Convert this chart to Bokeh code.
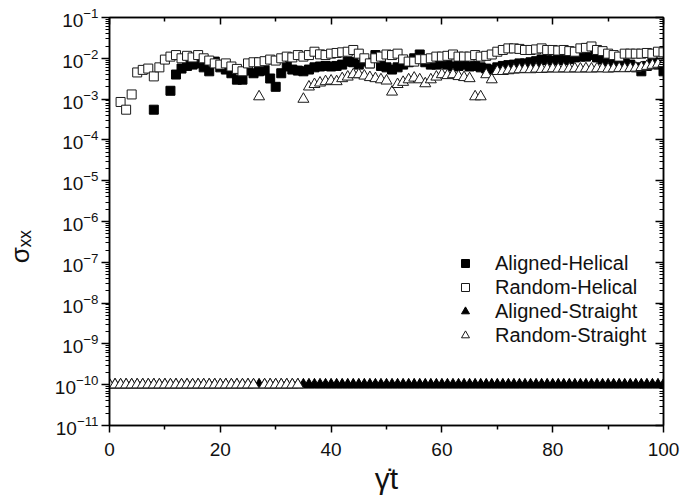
import math
from bokeh.plotting import figure
from bokeh.models import (FixedTicker, LogAxis, LinearAxis, Legend,
                          LegendItem, CustomJSTickFormatter)
from bokeh.embed import file_html
from bokeh.resources import INLINE

FONT = "Liberation Sans"

# ---------------- data ----------------
x_ticks = [0, 20, 40, 60, 80, 100]
x_minor_ticks = [10, 30, 50, 70, 90]
y_exponents = [-11, -10, -9, -8, -7, -6, -5, -4, -3, -2, -1]

series_names = ["Aligned-Helical", "Random-Helical", "Aligned-Straight", "Random-Straight"]

# Aligned-Helical (filled squares)
x_ah = [8] + list(range(11, 101))
y_ah = [5.5e-4,
        1.6e-3, 4.0e-3, 5.6e-3, 6.5e-3, 7.0e-3, 7.5e-3, 6.0e-3, 4.8e-3, 8.3e-3, 6.0e-3,
        5.3e-3, 4.3e-3, 3.0e-3, 3.0e-3, 5.0e-3, 4.3e-3, 4.8e-3, 5.0e-3, 3.2e-3, 2.0e-3,
        4.3e-3, 6.3e-3, 5.3e-3, 5.0e-3, 4.8e-3, 5.3e-3, 6.0e-3, 6.3e-3, 6.5e-3, 6.3e-3,
        6.5e-3, 7.0e-3, 8.3e-3, 8.0e-3, 7.0e-3, 8.3e-3, 7.5e-3, 1.2e-2, 6.5e-3, 6.0e-3,
        5.3e-3, 6.0e-3, 7.0e-3, 8.0e-3, 1.0e-2, 1.24e-2, 8.0e-3, 7.0e-3, 7.0e-3, 7.5e-3,
        7.0e-3, 6.3e-3, 6.5e-3, 7.0e-3, 6.3e-3, 6.5e-3, 6.0e-3, 5.6e-3, 5.3e-3, 6.0e-3,
        6.5e-3, 6.8e-3, 7.0e-3, 7.5e-3, 7.5e-3, 8.0e-3, 8.5e-3, 9.3e-3, 9.0e-3, 8.8e-3,
        9.3e-3, 9.0e-3, 9.5e-3, 1.05e-2, 1.1e-2, 1.1e-2, 1.2e-2, 1.05e-2, 9.3e-3, 8.5e-3,
        8.0e-3, 7.5e-3, 7.5e-3, 7.0e-3, 6.0e-3, 4.8e-3, 6.5e-3, 8.3e-3, 7.0e-3, 4.8e-3]

# Random-Helical (open squares)
x_rh = list(range(2, 101))
y_rh = [8.5e-4, 5.5e-4, 1.3e-3, 4.5e-3, 5.2e-3, 5.6e-3, 3.6e-3, 6.0e-3,
        9.3e-3, 1.1e-2, 1.2e-2, 1.0e-2, 1.15e-2, 1.05e-2, 1.2e-2, 1.0e-2, 8.8e-3, 7.5e-3,
        7.0e-3, 7.5e-3, 6.3e-3, 5.5e-3, 4.8e-3, 7.5e-3, 8.0e-3, 8.0e-3, 8.5e-3, 9.3e-3,
        8.8e-3, 1.0e-2, 1.1e-2, 1.05e-2, 1.2e-2, 1.1e-2, 1.2e-2, 1.45e-2, 1.25e-2, 1.2e-2,
        1.3e-2, 1.35e-2, 1.4e-2, 1.45e-2, 1.6e-2, 1.3e-2, 1.0e-2, 7.5e-3, 1.0e-2, 1.1e-2,
        1.24e-2, 1.2e-2, 1.3e-2, 9.4e-3, 8.3e-3, 8.3e-3, 9.5e-3, 9.5e-3, 1.0e-2, 1.1e-2,
        1.1e-2, 1.15e-2, 1.24e-2, 1.1e-2, 1.1e-2, 1.1e-2, 1.2e-2, 1.1e-2, 1.15e-2, 1.24e-2,
        1.45e-2, 1.6e-2, 1.75e-2, 1.75e-2, 1.7e-2, 1.6e-2, 1.6e-2, 1.65e-2, 1.75e-2, 1.6e-2,
        1.6e-2, 1.55e-2, 1.6e-2, 1.5e-2, 1.45e-2, 1.75e-2, 1.8e-2, 1.95e-2, 1.6e-2, 1.5e-2,
        1.3e-2, 1.2e-2, 1.1e-2, 1.3e-2, 1.3e-2, 1.3e-2, 1.3e-2, 1.35e-2, 1.3e-2, 1.45e-2,
        1.4e-2]

# Aligned-Straight (filled triangles)
x_as = list(range(0, 101))
y_as = [1e-10] * 101

# Random-Straight (open triangles)
x_rs = list(range(0, 101))
y_rs = ([1e-10] * 27 + [1.15e-3] + [1e-10] * 7 +
        [1.0e-3, 2.0e-3, 2.3e-3, 2.5e-3, 2.7e-3, 2.8e-3, 2.7e-3, 3.2e-3, 3.5e-3, 4.0e-3,
         4.0e-3, 3.7e-3, 3.4e-3, 3.2e-3, 3.0e-3, 2.8e-3, 1.5e-3, 2.3e-3, 2.6e-3, 3.0e-3,
         3.3e-3, 3.0e-3, 2.4e-3, 3.0e-3, 3.5e-3, 4.0e-3, 3.8e-3, 4.0e-3, 3.6e-3, 3.4e-3,
         3.2e-3, 1.15e-3, 1.15e-3, 4.0e-3, 3.0e-3, 4.8e-3, 4.8e-3, 5.0e-3, 5.2e-3, 5.3e-3,
         5.4e-3, 5.3e-3, 5.5e-3, 5.4e-3, 5.5e-3, 5.6e-3, 5.5e-3, 5.6e-3, 5.5e-3, 5.6e-3,
         5.5e-3, 5.6e-3, 5.5e-3, 5.6e-3, 5.6e-3, 5.5e-3, 5.6e-3, 5.7e-3, 5.6e-3, 5.7e-3,
         5.8e-3, 6.0e-3, 6.4e-3, 6.8e-3, 7.2e-3, 7.5e-3])

assert len(x_ah) == len(y_ah)
assert len(x_rh) == len(y_rh)
assert len(x_rs) == len(y_rs)

# ---------------- figure ----------------
p = figure(width=688, height=500, output_backend="svg", toolbar_location=None,
           x_range=(0, 100), y_range=(1e-11, 1e-1), y_axis_type="log",
           min_border_left=109, min_border_right=25, min_border_top=17, min_border_bottom=75)
p.grid.visible = False
p.outline_line_color = "black"
p.outline_line_width = 1.5
p.background_fill_color = "white"
p.border_fill_color = "white"

y_major = [10.0 ** e for e in y_exponents]
y_minor = [k * 10.0 ** e for e in y_exponents[:-1] for k in range(2, 10)]

# bottom axis
xa = p.xaxis[0]
xa.ticker = FixedTicker(ticks=x_ticks, minor_ticks=x_minor_ticks)
xa.major_tick_out = 7
xa.major_tick_in = 0
xa.minor_tick_out = 4
xa.minor_tick_in = 0
xa.axis_line_width = 1.5
xa.major_tick_line_width = 1.5
xa.minor_tick_line_width = 1.5
xa.major_label_text_font = FONT
xa.major_label_text_font_size = "19px"
xa.major_label_text_color = "#111111"
xa.major_label_standoff = 10
xa.axis_label = "γ̇t"
xa.axis_label_text_font = FONT
xa.axis_label_text_font_size = "30px"
xa.axis_label_text_font_style = "normal"
xa.axis_label_text_color = "#111111"
xa.axis_label_standoff = 3

# left axis
ya = p.yaxis[0]
ya.ticker = FixedTicker(ticks=y_major, minor_ticks=y_minor)
ya.major_tick_out = 8
ya.major_tick_in = 0
ya.minor_tick_out = 4
ya.minor_tick_in = 0
ya.axis_line_width = 1.5
ya.major_tick_line_width = 1.5
ya.minor_tick_line_width = 1
ya.major_label_standoff = 3
ya.major_label_text_font = FONT
ya.major_label_text_font_size = "19px"
ya.major_label_text_color = "#111111"
# sigma_xx title; trailing no-break spaces shift the visible text below the axis centre
ya.axis_label = "σₓₓ" + "\u00a0" * 7
ya.axis_label_text_font = FONT
ya.axis_label_text_font_size = "26px"
ya.axis_label_text_font_style = "normal"
ya.axis_label_text_color = "#111111"
ya.axis_label_standoff = 17

# top axis
ta = LinearAxis(ticker=FixedTicker(ticks=x_ticks, minor_ticks=x_minor_ticks),
                formatter=CustomJSTickFormatter(code="return ''"),
                major_tick_in=7, major_tick_out=0, minor_tick_in=4, minor_tick_out=0,
                axis_line_width=1.5, major_tick_line_width=1.5, minor_tick_line_width=1.5,
                major_label_standoff=0)
p.add_layout(ta, "above")

# right axis
ra = LogAxis(ticker=FixedTicker(ticks=y_major, minor_ticks=y_minor),
             formatter=CustomJSTickFormatter(code="return ''"),
             major_tick_in=8, major_tick_out=0, minor_tick_in=4, minor_tick_out=0,
             axis_line_width=1.5, major_tick_line_width=1.5, minor_tick_line_width=1,
             major_label_standoff=0)
p.add_layout(ra, "right")

# ---------------- series ----------------
r_as = p.scatter(x_as, y_as, marker="triangle", size=11, fill_color="black",
                 line_color="black", line_width=1)
r_ah = p.scatter(x_ah, y_ah, marker="square", size=9, fill_color="black",
                 line_color="black", line_width=1)
r_rh = p.scatter(x_rh, y_rh, marker="square", size=9, fill_color="white",
                 line_color="#1a1a1a", line_width=1)
r_rs = p.scatter(x_rs, y_rs, marker="triangle", size=11, fill_color="white",
                 line_color="#1a1a1a", line_width=1)

legend = Legend(items=[LegendItem(label=series_names[0], renderers=[r_ah]),
                       LegendItem(label=series_names[1], renderers=[r_rh]),
                       LegendItem(label=series_names[2], renderers=[r_as]),
                       LegendItem(label=series_names[3], renderers=[r_rs])],
                location=(346, 78), padding=0, margin=0, spacing=0,
                glyph_width=20, glyph_height=24, label_height=24, label_standoff=20,
                border_line_color=None, background_fill_alpha=0,
                label_text_font=FONT, label_text_font_size="20px",
                label_text_color="#111111")
p.add_layout(legend)

open("out.html", "w").write(file_html(p, INLINE))
